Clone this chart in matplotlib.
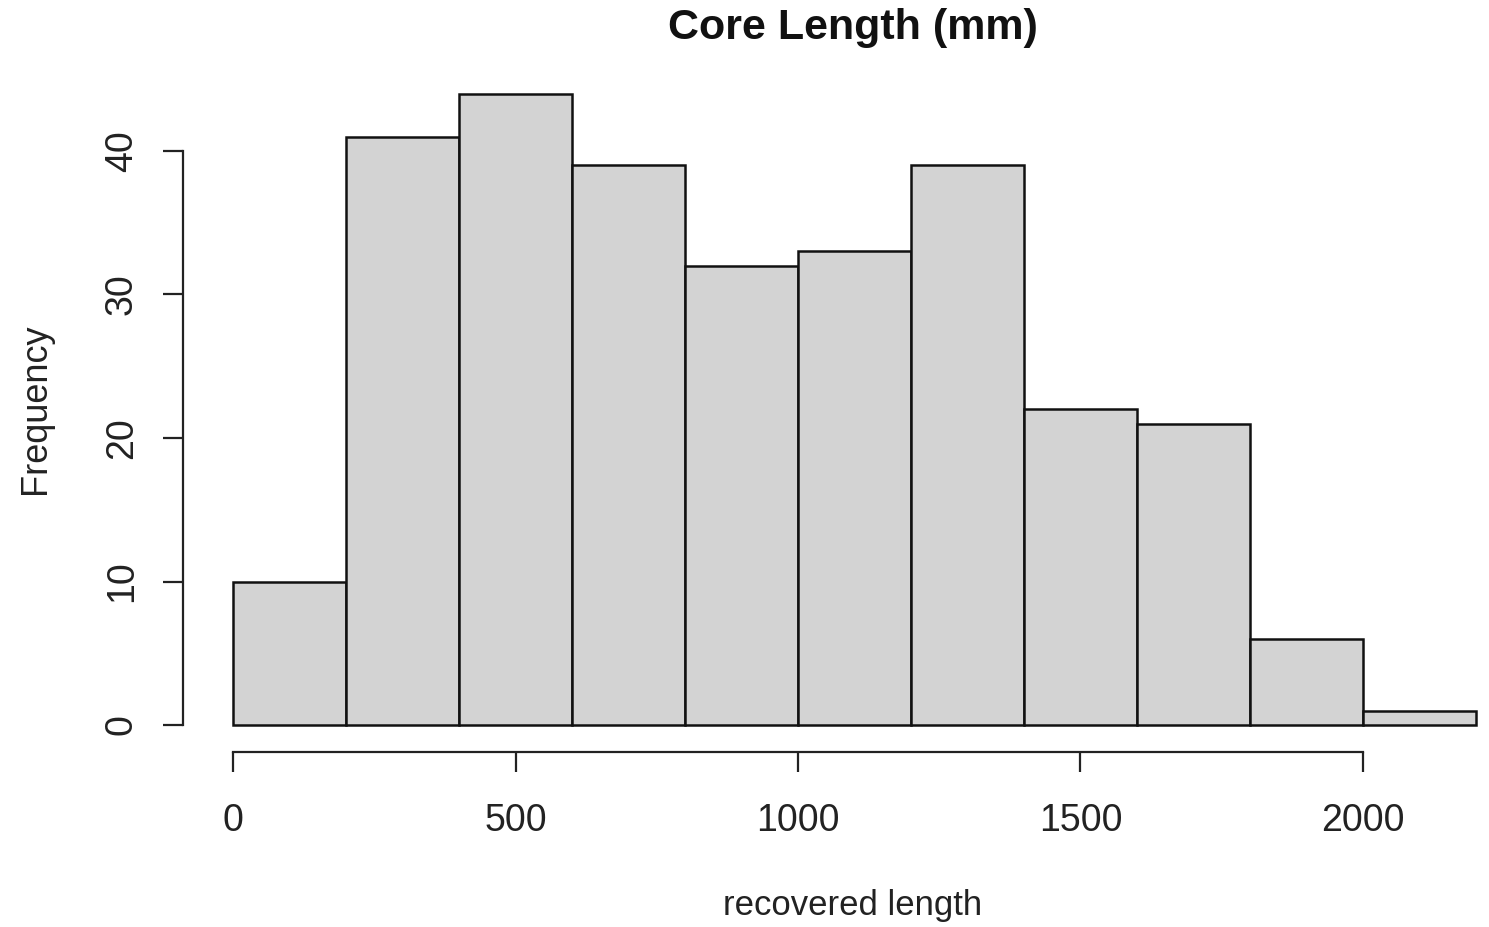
import matplotlib
matplotlib.use("Agg")
import matplotlib.pyplot as plt
import numpy as np

# histogram of recovered core length, 200 mm bins
bin_edges = [0, 200, 400, 600, 800, 1000, 1200, 1400, 1600, 1800, 2000, 2200]
counts = [10, 41, 44, 39, 32, 33, 39, 22, 21, 6, 1]
x_ticks = [0, 500, 1000, 1500, 2000]
y_ticks = [0, 10, 20, 30, 40]

plt.rcParams["font.family"] = ["Liberation Sans", "DejaVu Sans"]

W, H = 1489, 927
fig = plt.figure(figsize=(W / 100, H / 100), dpi=100)

# R-style plot region (4% extension around data range)
left_px, right_px, top_px, bottom_px = 183.3, 1525.7, 68.3, 750.3
ax = fig.add_axes([left_px / W, (H - bottom_px) / H,
                   (right_px - left_px) / W, (bottom_px - top_px) / H])

edges = np.array(bin_edges)
ax.bar(edges[:-1], counts, width=np.diff(edges), align="edge",
       color="#D3D3D3", edgecolor="#111111", linewidth=1.8)

ax.set_xlim(-88, 2288)
ax.set_ylim(-1.76, 45.76)

for s in ["top", "right"]:
    ax.spines[s].set_visible(False)
ax.spines["left"].set_bounds(0, 40)
ax.spines["bottom"].set_bounds(0, 2000)
ax.spines["bottom"].set_position(("outward", 1.5))
for s in ["left", "bottom"]:
    ax.spines[s].set_linewidth(1.6)
    ax.spines[s].set_color("#222222")

ax.set_xticks(x_ticks)
ax.set_yticks(y_ticks)
ax.tick_params(axis="both", length=14.4, width=1.6, color="#222222",
               labelsize=27, labelcolor="#222222")
ax.tick_params(axis="x", pad=22)
ax.tick_params(axis="y", pad=17)
for lbl in ax.get_yticklabels():
    lbl.set_rotation(90)
    lbl.set_va("center")

fig.text(853 / W, 1 - 28 / H, "Core Length (mm)", ha="center", va="center",
         fontsize=31, fontweight="bold", color="#111111")
fig.text(853 / W, 1 - 906 / H, "recovered length", ha="center", va="center",
         fontsize=25, color="#222222")
fig.text(35 / W, 1 - 409 / H, "Frequency", ha="center", va="center",
         rotation=90, fontsize=26, color="#222222")

fig.savefig("out.png", dpi=100)
